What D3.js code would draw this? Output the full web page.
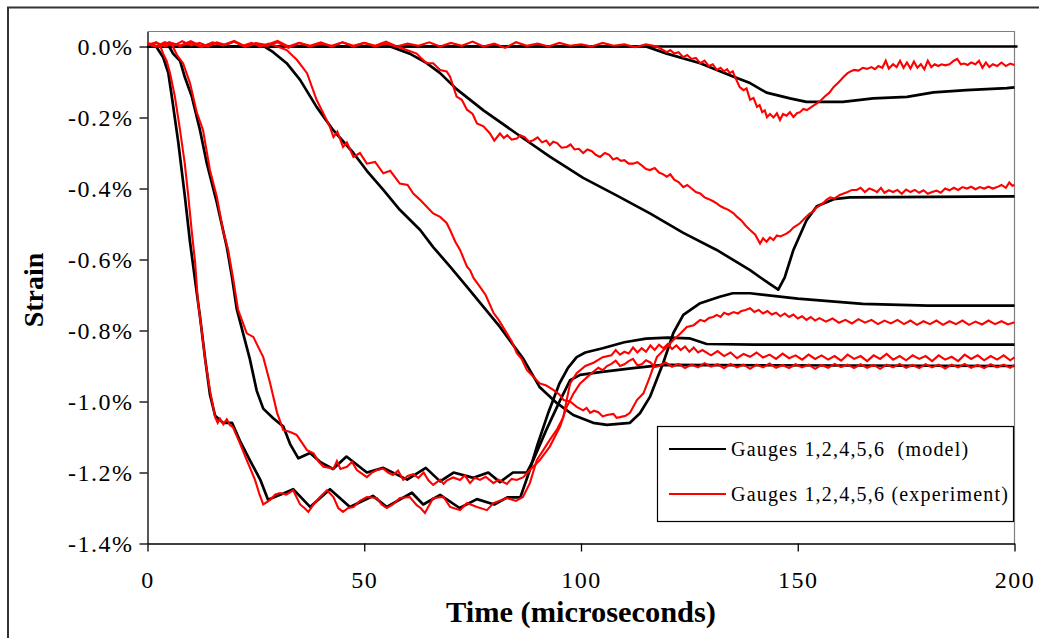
<!DOCTYPE html>
<html>
<head>
<meta charset="utf-8">
<script src="https://cdn.jsdelivr.net/npm/d3@7"></script>
<style>
  html, body { margin: 0; padding: 0; background: #fff; }
  svg { display: block; }
  .tick text { font-family: "Liberation Serif", "Times New Roman", serif; }
</style>
</head>
<body>
<svg id="chart" width="1039" height="638"></svg>
<script>
// ---- axis ticks ----
const xTicks = [0, 50, 100, 150, 200];
const xTickLabels = ["0", "50", "100", "150", "200"];
const yTicks = [0, -0.2, -0.4, -0.6, -0.8, -1.0, -1.2, -1.4];
const yTickLabels = ["0.0%", "-0.2%", "-0.4%", "-0.6%", "-0.8%", "-1.0%", "-1.2%", "-1.4%"];

// ---- series: [time (microseconds), strain (%)] ----
const model1 = [[0,0],[2,0],[3.6,-0.03],[4.8,-0.075],[5.6,-0.14],[7.1,-0.27],[8.6,-0.42],[9.8,-0.55],[11,-0.66],[12.1,-0.76],[13.3,-0.88],[14.4,-0.98],[15.6,-1.04],[17.4,-1.06],[19.5,-1.06],[21.3,-1.11],[23.6,-1.165],[26,-1.22],[27.8,-1.277],[30.6,-1.263],[33.6,-1.247],[37.5,-1.297],[42.1,-1.247],[46.7,-1.297],[52,-1.266],[55.2,-1.297],[61,-1.257],[63.6,-1.29],[67.5,-1.263],[72,-1.3],[76,-1.275],[80,-1.29],[83,-1.27],[86,-1.27],[88,-1.2],[90,-1.12],[92.5,-1.03],[95,-0.95],[97,-0.905],[99,-0.875],[101,-0.862],[105,-0.85],[110,-0.833],[115,-0.823],[120,-0.82],[125,-0.822],[129,-0.838],[140,-0.84],[200,-0.84]];
const model2 = [[0,0],[5,0],[5.9,-0.02],[7.5,-0.04],[8.6,-0.086],[10.2,-0.14],[12.1,-0.235],[13.7,-0.33],[16,-0.44],[18.3,-0.565],[19.5,-0.65],[20.6,-0.74],[22.1,-0.81],[23.6,-0.88],[25.2,-0.97],[26.7,-1.02],[29,-1.047],[31.3,-1.07],[32.9,-1.12],[34.8,-1.16],[37.5,-1.145],[39.8,-1.17],[42.8,-1.19],[45.9,-1.155],[50.6,-1.2],[54.4,-1.187],[59.9,-1.22],[64.2,-1.187],[67.5,-1.225],[70.6,-1.2],[75.2,-1.215],[78.6,-1.2],[81.3,-1.227],[84.3,-1.2],[87.5,-1.2],[89,-1.165],[92,-1.08],[95.2,-0.996],[97.5,-0.94],[99.8,-0.925],[104.4,-0.917],[112,-0.906],[119,-0.897],[200,-0.9]];
const model3 = [[0,0],[27,0],[29,-0.016],[32.1,-0.047],[35.2,-0.094],[39,-0.17],[42.8,-0.235],[47.5,-0.30],[50.6,-0.35],[54.4,-0.404],[58.2,-0.46],[62.9,-0.517],[65.9,-0.565],[69.8,-0.62],[73.7,-0.677],[81.3,-0.79],[86.7,-0.88],[90.5,-0.96],[94.4,-1.004],[98.2,-1.038],[102.8,-1.06],[106,-1.066],[111.3,-1.06],[113.6,-1.033],[115.9,-0.987],[119,-0.89],[121.3,-0.807],[123.6,-0.756],[127.5,-0.723],[132,-0.705],[135,-0.695],[139,-0.695],[150,-0.71],[165,-0.725],[180,-0.73],[200,-0.73]];
const model4 = [[0,0],[56,0],[60.5,-0.02],[64.4,-0.047],[67.5,-0.075],[71.3,-0.12],[77.5,-0.18],[85.1,-0.245],[92.8,-0.31],[100.5,-0.37],[108.3,-0.42],[115.9,-0.47],[123.6,-0.525],[131.3,-0.573],[139,-0.63],[141.3,-0.65],[145.5,-0.685],[147,-0.65],[149,-0.573],[152,-0.49],[154.4,-0.45],[158.3,-0.43],[162,-0.425],[200,-0.422]];
const model5 = [[0,0],[115,0],[119.8,-0.02],[127.5,-0.047],[135.2,-0.085],[139,-0.103],[142.8,-0.13],[148.2,-0.146],[152,-0.156],[160.4,-0.156],[167.4,-0.146],[175.2,-0.142],[181.3,-0.129],[188.9,-0.123],[198.2,-0.117],[200,-0.115]];

const exp1 = [[0,0.01],[1,0.003],[2,0.012],[3,0.0],[3.6,-0.02],[4.4,-0.04],[5.2,-0.075],[6.3,-0.14],[7.5,-0.235],[8.6,-0.33],[9.4,-0.42],[10.2,-0.52],[11,-0.61],[11.6,-0.714],[12.5,-0.80],[13.3,-0.883],[14.4,-0.968],[15.6,-1.044],[16.2,-1.06],[16.7,-1.048],[17.5,-1.064],[18.3,-1.05],[19.0,-1.066],[19.7,-1.072],[21.3,-1.117],[22.9,-1.165],[24.8,-1.221],[25.8,-1.26],[26.7,-1.29],[28.3,-1.277],[29.5,-1.262],[30.6,-1.258],[32,-1.262],[33.6,-1.25],[35.2,-1.29],[36.2,-1.30],[37.1,-1.311],[38.3,-1.29],[39.8,-1.269],[41.4,-1.25],[42.9,-1.269],[44,-1.30],[45.1,-1.311],[46.3,-1.30],[47.5,-1.297],[49,-1.28],[50.6,-1.269],[52.9,-1.272],[54,-1.29],[55.2,-1.30],[56.6,-1.29],[58.2,-1.272],[60.5,-1.269],[62.1,-1.292],[63,-1.30],[64,-1.314],[65.9,-1.272],[68.3,-1.269],[69.8,-1.297],[72.1,-1.306],[73.7,-1.286],[76,-1.297],[78.3,-1.306],[79.8,-1.286],[82.9,-1.272],[85,-1.28],[86.6,-1.269],[88.2,-1.23],[89.8,-1.165],[91.3,-1.137],[92.8,-1.108],[94.4,-1.08],[95.9,-1.044],[96.7,-0.996],[97.5,-0.949],[99,-0.92],[101,-0.90],[103,-0.89],[105,-0.875],[107,-0.87],[108,-0.855],[109,-0.868],[110,-0.86],[111,-0.865],[112,-0.848],[113,-0.862],[114,-0.85],[115,-0.86],[116,-0.842],[117,-0.855],[118,-0.84],[119,-0.85],[120,-0.838],[121,-0.852],[122,-0.842],[123,-0.855],[124,-0.845],[125,-0.86],[126,-0.848],[127,-0.862],[128,-0.855],[130,-0.87],[131.5,-0.858],[133,-0.872],[134.5,-0.862],[136,-0.878],[137.5,-0.866],[139,-0.874],[140.5,-0.862],[142,-0.876],[143.5,-0.868],[145,-0.88],[146.5,-0.865],[148,-0.878],[149.5,-0.87],[151,-0.882],[152.5,-0.868],[154,-0.88],[155.5,-0.87],[157,-0.882],[158.5,-0.872],[160,-0.885],[161.5,-0.868],[163,-0.88],[164.5,-0.872],[166,-0.886],[167.5,-0.87],[169,-0.88],[170.5,-0.866],[172,-0.882],[173.5,-0.872],[175,-0.884],[176.5,-0.87],[178,-0.88],[179.5,-0.872],[181,-0.886],[182.5,-0.87],[184,-0.882],[185.5,-0.874],[187,-0.886],[188.5,-0.868],[190,-0.88],[191.5,-0.87],[193,-0.884],[194.5,-0.872],[196,-0.882],[197.5,-0.87],[199,-0.884],[200,-0.876]];
const exp2 = [[0,0.005],[2,0.012],[4,0.0],[5.5,0.008],[6.8,-0.024],[8.2,-0.047],[9.8,-0.103],[11.4,-0.187],[12.8,-0.235],[14.4,-0.348],[16,-0.424],[17.4,-0.517],[18.6,-0.573],[19.7,-0.65],[20.9,-0.742],[22.9,-0.808],[24.4,-0.818],[26.7,-0.875],[28.3,-0.949],[29.9,-1.032],[31.3,-1.08],[32.9,-1.086],[34.4,-1.094],[36.8,-1.137],[38.3,-1.146],[39.5,-1.17],[40.6,-1.184],[42.9,-1.189],[43.7,-1.168],[44.5,-1.19],[46,-1.184],[47.2,-1.17],[48.3,-1.193],[50.6,-1.213],[51.8,-1.2],[52.9,-1.193],[54.4,-1.189],[55.5,-1.2],[56.6,-1.207],[57.8,-1.195],[59,-1.221],[60,-1.21],[61.3,-1.205],[62.5,-1.215],[63.7,-1.2],[64.8,-1.222],[65.9,-1.235],[67.5,-1.22],[68.3,-1.232],[69,-1.223],[70.5,-1.214],[72.1,-1.221],[73.2,-1.208],[74.4,-1.23],[75.5,-1.215],[76.7,-1.221],[78,-1.212],[79.8,-1.23],[81,-1.22],[82.9,-1.232],[84,-1.218],[85.2,-1.221],[86.7,-1.213],[88.2,-1.193],[90.5,-1.165],[92.8,-1.127],[95.2,-1.07],[96.7,-1.015],[98.3,-0.977],[99.8,-0.949],[102,-0.925],[104,-0.905],[105,-0.912],[106,-0.9],[107,-0.894],[108,-0.885],[109,-0.9],[110,-0.895],[111,-0.886],[112,-0.88],[113,-0.898],[114,-0.895],[115,-0.884],[116,-0.89],[117,-0.903],[118,-0.9],[119.5,-0.89],[121,-0.902],[122.5,-0.894],[124,-0.906],[125.5,-0.896],[127,-0.904],[128.5,-0.892],[130,-0.902],[131.5,-0.895],[133,-0.906],[134.5,-0.894],[136,-0.904],[137.5,-0.896],[139,-0.908],[140.5,-0.896],[142,-0.904],[143.5,-0.893],[145,-0.905],[146.5,-0.897],[148,-0.906],[149.5,-0.895],[151,-0.904],[152.5,-0.896],[154,-0.908],[155.5,-0.897],[157,-0.905],[158.5,-0.894],[160,-0.903],[161.5,-0.896],[163,-0.906],[164.5,-0.895],[166,-0.905],[167.5,-0.897],[169,-0.908],[170.5,-0.896],[172,-0.904],[173.5,-0.894],[175,-0.905],[176.5,-0.897],[178,-0.906],[179.5,-0.895],[181,-0.904],[182.5,-0.896],[184,-0.907],[185.5,-0.896],[187,-0.904],[188.5,-0.894],[190,-0.905],[191.5,-0.897],[193,-0.906],[194.5,-0.895],[196,-0.904],[197.5,-0.896],[199,-0.905],[200,-0.897]];
const exp3 = [[0,0.008],[2,0],[4,0.012],[6,0.002],[8,0.015],[10,0.003],[12,0.01],[14,0],[16,0.012],[18,0.004],[20,0.014],[22,0.002],[24,0.01],[26,0.0],[28,0.008],[30,0],[32.1,-0.01],[34.5,-0.038],[36.8,-0.075],[39,-0.15],[40.6,-0.189],[42.1,-0.227],[42.9,-0.255],[43.8,-0.24],[45.1,-0.283],[46,-0.27],[47.5,-0.311],[49,-0.3],[50.6,-0.33],[52.5,-0.325],[54.4,-0.357],[56,-0.35],[58.2,-0.386],[60,-0.39],[61.3,-0.414],[62.9,-0.432],[63.7,-0.442],[65.9,-0.47],[67.5,-0.48],[69,-0.497],[69.8,-0.517],[71,-0.55],[72.1,-0.573],[73.7,-0.62],[74.4,-0.63],[75.2,-0.652],[76.7,-0.677],[78,-0.7],[79.8,-0.75],[81,-0.77],[82.9,-0.808],[84,-0.83],[85.2,-0.864],[86.3,-0.88],[87.5,-0.911],[89,-0.93],[90.5,-0.949],[92,-0.955],[93.7,-0.968],[95,-0.98],[96,-0.996],[97.5,-1.0],[99,-1.015],[100.5,-1.025],[101.3,-1.018],[102.1,-1.032],[103,-1.026],[104,-1.03],[105,-1.042],[106,-1.038],[107.5,-1.035],[108.2,-1.046],[109,-1.044],[110.3,-1.04],[111.3,-1.032],[112.9,-0.996],[114.4,-0.977],[115.9,-0.93],[117.5,-0.875],[119.8,-0.846],[121.3,-0.827],[122.8,-0.81],[124.4,-0.79],[126,-0.785],[127.5,-0.77],[128.5,-0.774],[129.5,-0.765],[130.5,-0.762],[131.3,-0.756],[132.2,-0.762],[133,-0.75],[134,-0.755],[135.2,-0.748],[136.2,-0.752],[137,-0.745],[138,-0.742],[139,-0.737],[140,-0.748],[141,-0.742],[142,-0.752],[143,-0.745],[144,-0.755],[145,-0.75],[146,-0.76],[147,-0.752],[148,-0.762],[149,-0.755],[150,-0.766],[151,-0.76],[152,-0.77],[153,-0.762],[154,-0.772],[155,-0.765],[156.5,-0.775],[158,-0.766],[159.5,-0.778],[161,-0.77],[162.5,-0.78],[164,-0.768],[165.5,-0.778],[167,-0.77],[168.5,-0.782],[170,-0.772],[171.5,-0.78],[173,-0.77],[174.5,-0.782],[176,-0.772],[177.5,-0.784],[179,-0.774],[180.5,-0.782],[182,-0.772],[183.5,-0.784],[185,-0.774],[186.5,-0.782],[188,-0.772],[189.5,-0.784],[191,-0.775],[192.5,-0.783],[194,-0.772],[195.5,-0.782],[197,-0.774],[198.5,-0.783],[200,-0.777]];
const exp4 = [[0,0.01],[2.5,0],[5,0.012],[7.5,0.002],[10,0.015],[12.5,0],[15,0.01],[17.5,0.003],[20,0.014],[22.5,0.0],[25,0.01],[27.5,0.004],[30,0.016],[32.5,0.0],[35,0.01],[37.5,0.002],[40,0.012],[42.5,0.0],[45,0.012],[47.5,0.002],[50,0.01],[52.5,0.0],[55,0.008],[57.5,0.0],[59.8,-0.01],[62.1,-0.02],[62.9,-0.03],[64.4,-0.047],[65.9,-0.047],[67.5,-0.066],[69,-0.07],[69.8,-0.085],[71.3,-0.141],[72.5,-0.15],[73.7,-0.178],[75,-0.19],[76,-0.217],[77.5,-0.225],[79,-0.245],[80,-0.265],[81.3,-0.245],[82.2,-0.258],[83,-0.25],[84,-0.262],[85.2,-0.259],[86,-0.25],[87,-0.255],[88,-0.268],[89,-0.264],[90,-0.256],[91,-0.27],[92,-0.265],[92.8,-0.278],[93.6,-0.268],[94.5,-0.272],[95.5,-0.285],[96.7,-0.283],[97.6,-0.276],[98.5,-0.29],[99.5,-0.288],[100.5,-0.3],[101.5,-0.29],[102.5,-0.295],[103.4,-0.305],[104.4,-0.311],[105.5,-0.3],[106.5,-0.305],[107.4,-0.318],[108.3,-0.314],[109.2,-0.322],[110,-0.32],[111,-0.33],[112,-0.33],[113,-0.326],[114,-0.335],[115,-0.345],[115.9,-0.348],[117,-0.342],[118,-0.355],[119,-0.36],[119.8,-0.367],[120.6,-0.36],[121.5,-0.375],[122.5,-0.382],[123.6,-0.396],[124.5,-0.39],[125.5,-0.4],[126.5,-0.41],[127.5,-0.414],[128.5,-0.425],[129.5,-0.43],[130.5,-0.436],[131.3,-0.442],[132.2,-0.45],[133,-0.455],[134,-0.46],[135.2,-0.47],[136,-0.48],[137,-0.49],[138,-0.505],[139,-0.517],[140.2,-0.53],[141.3,-0.555],[142,-0.54],[142.8,-0.55],[143.6,-0.538],[144.4,-0.545],[145.2,-0.532],[146,-0.535],[147.4,-0.527],[148.2,-0.52],[149,-0.51],[150.5,-0.498],[151.5,-0.485],[152.8,-0.47],[153.5,-0.466],[154.2,-0.455],[155,-0.448],[155.8,-0.442],[156.6,-0.432],[157.5,-0.425],[158.5,-0.428],[159.7,-0.418],[160.6,-0.414],[161.5,-0.41],[162.5,-0.404],[163.6,-0.404],[164.5,-0.398],[165.5,-0.41],[166.5,-0.4],[167.4,-0.404],[168.3,-0.41],[169.2,-0.398],[170,-0.412],[171,-0.405],[172,-0.41],[173,-0.404],[174,-0.415],[175,-0.403],[176,-0.41],[177,-0.404],[178,-0.412],[179,-0.405],[180,-0.415],[181,-0.41],[182,-0.406],[183,-0.412],[184,-0.4],[185,-0.405],[186,-0.398],[187,-0.404],[188,-0.396],[189,-0.4],[190,-0.395],[191,-0.402],[192,-0.396],[193,-0.4],[194,-0.395],[195,-0.4],[196,-0.396],[197,-0.39],[198,-0.398],[198.8,-0.383],[199.5,-0.392],[200,-0.39]];
const exp5 = [[0,0.006],[2.5,0.0],[5,0.012],[7.5,0.002],[10,0.01],[12.5,-0.002],[15,0.012],[17.5,0.004],[20,0.016],[22.5,0.0],[25,0.008],[27.5,0.002],[30,0.012],[32.5,-0.004],[35,0.01],[37.5,0.0],[40,0.008],[42.5,0.002],[45,0.012],[47.5,0.0],[50,0.01],[52.5,0.002],[55,0.014],[57.5,0.0],[60,0.008],[62.5,0.002],[65,0.012],[67.5,0.0],[70,0.01],[72.5,0.002],[75,0.014],[77.5,0.0],[80,0.008],[82.5,-0.004],[85,0.012],[87.5,0.002],[90,0.008],[92.5,0.0],[95,0.01],[97.5,0.002],[100,0.006],[102.5,0.0],[105,0.01],[107.5,0.002],[110,0.006],[112.5,-0.002],[115,0.006],[117.5,0.0],[119.8,-0.016],[120.6,-0.01],[121.5,-0.02],[122.5,-0.016],[123.6,-0.03],[124.5,-0.024],[125.5,-0.035],[126.5,-0.032],[127.5,-0.047],[128.5,-0.04],[129.5,-0.055],[130.4,-0.05],[131.3,-0.066],[132.2,-0.06],[133,-0.07],[133.7,-0.064],[134.3,-0.075],[135,-0.07],[135.5,-0.085],[136.6,-0.114],[137.5,-0.123],[138.2,-0.118],[139,-0.15],[139.8,-0.145],[140.6,-0.17],[141.2,-0.165],[141.8,-0.185],[142.4,-0.18],[142.9,-0.199],[143.6,-0.19],[144.4,-0.2],[145.2,-0.188],[145.9,-0.207],[146.6,-0.19],[147.4,-0.195],[148.2,-0.185],[149,-0.199],[149.8,-0.188],[150.5,-0.185],[151.3,-0.176],[152.1,-0.179],[153.2,-0.17],[154.4,-0.16],[155.3,-0.152],[156.3,-0.14],[157.3,-0.13],[158.3,-0.114],[159.5,-0.1],[160.6,-0.085],[161.5,-0.075],[162.2,-0.07],[163,-0.066],[164,-0.068],[165,-0.06],[166,-0.063],[167,-0.058],[167.8,-0.064],[168.6,-0.055],[169.5,-0.06],[170.3,-0.04],[171,-0.062],[172,-0.05],[172.8,-0.058],[173.6,-0.04],[174.4,-0.06],[175.2,-0.045],[176,-0.062],[176.8,-0.042],[177.6,-0.06],[178.4,-0.05],[179.2,-0.064],[180,-0.04],[180.8,-0.058],[181.6,-0.05],[182.4,-0.055],[183.2,-0.05],[184,-0.053],[185,-0.05],[186,-0.04],[186.8,-0.035],[187.6,-0.05],[188.4,-0.048],[189.2,-0.052],[190,-0.045],[191,-0.05],[191.8,-0.04],[192.6,-0.06],[193.4,-0.045],[194.2,-0.058],[195,-0.05],[196,-0.055],[197,-0.045],[198,-0.055],[199,-0.048],[200,-0.052]];

const zeroLine = [[0,0],[200.7,0]];

const legendLabels = ["Gauges 1,2,4,5,6\u00a0\u00a0(model)", "Gauges 1,2,4,5,6 (experiment)"];
const modelColor = "#000000";
const expColor = "#ff0000";

// ---- layout ----
const svg = d3.select("#chart");
const plot = { left: 147.5, right: 1014.5, top: 31.5, bottom: 543.5 };
const yMax = 0.0423;

const x = d3.scaleLinear().domain([0, 200]).range([plot.left, plot.right]);
const y = d3.scaleLinear().domain([-1.4, yMax]).range([plot.bottom, plot.top]);

// outer chart frame (partly cut by the page edge)
svg.append("path")
  .attr("d", "M8,638 L8,7.5 L1039,7.5")
  .attr("fill", "none").attr("stroke", "#333").attr("stroke-width", 2);

// plot area border (top / right)
svg.append("path")
  .attr("d", `M${plot.left},${plot.top} L${plot.right},${plot.top} L${plot.right},${plot.bottom}`)
  .attr("fill", "none").attr("stroke", "#7f7f7f").attr("stroke-width", 1.2);

// axes
const xAxis = d3.axisBottom(x).tickValues(xTicks).tickSize(8).tickSizeOuter(0)
  .tickFormat((d, i) => xTickLabels[i]);
const yAxis = d3.axisLeft(y).tickValues(yTicks).tickSize(8).tickSizeOuter(0)
  .tickFormat((d, i) => yTickLabels[i]);

const gx = svg.append("g").attr("transform", `translate(0,${plot.bottom})`).call(xAxis);
const gy = svg.append("g").attr("transform", `translate(${plot.left},0)`).call(yAxis);

[gx, gy].forEach(g => {
  g.select(".domain").attr("stroke", "#000").attr("stroke-width", 1.3);
  g.selectAll(".tick line").attr("stroke", "#000").attr("stroke-width", 1.3);
  g.selectAll(".tick text")
    .attr("fill", "#000")
    .style("font-size", "24px")
    .style("letter-spacing", "1.5px");
});
gx.selectAll(".tick text").attr("dy", null).attr("y", 44);
gy.selectAll(".tick text").attr("x", -14).attr("dy", "0.33em");

// axis titles
svg.append("text")
  .attr("x", 581).attr("y", 622)
  .attr("text-anchor", "middle")
  .attr("textLength", 270).attr("lengthAdjust", "spacingAndGlyphs")
  .style("font-family", "'Liberation Serif', 'Times New Roman', serif")
  .style("font-weight", "bold")
  .style("font-size", "29px")
  .text("Time (microseconds)");

svg.append("text")
  .attr("transform", "translate(43,290) rotate(-90)")
  .attr("text-anchor", "middle")
  .style("font-family", "'Liberation Serif', 'Times New Roman', serif")
  .style("font-weight", "bold")
  .style("font-size", "28px")
  .text("Strain");

// series
const line = d3.line().x(d => x(d[0])).y(d => y(d[1]));
const gLines = svg.append("g");

gLines.append("path").datum(zeroLine)
  .attr("d", line).attr("fill", "none").attr("stroke", modelColor).attr("stroke-width", 2.4);

const expSeries = [exp5, exp4, exp3, exp2, exp1];
const modelSeries = [model5, model4, model3, model2, model1];

modelSeries.forEach(s => {
  gLines.append("path").datum(s)
    .attr("d", line).attr("fill", "none")
    .attr("stroke", modelColor).attr("stroke-width", 2.7)
    .attr("stroke-linejoin", "round");
});
expSeries.forEach(s => {
  gLines.append("path").datum(s)
    .attr("d", line).attr("fill", "none")
    .attr("stroke", expColor).attr("stroke-width", 2.1)
    .attr("stroke-linejoin", "miter");
});

// legend
const lg = svg.append("g");
lg.append("rect")
  .attr("x", 657.5).attr("y", 426.5).attr("width", 356).attr("height", 95)
  .attr("fill", "#fff").attr("stroke", "#000").attr("stroke-width", 1.2);

[modelColor, expColor].forEach((c, i) => {
  const ly = 449 + i * 45;
  lg.append("line")
    .attr("x1", 669).attr("x2", 726).attr("y1", ly).attr("y2", ly)
    .attr("stroke", c).attr("stroke-width", 2);
  lg.append("text")
    .attr("x", 731).attr("y", ly + 7)
    .style("font-family", "'Liberation Serif', 'Times New Roman', serif")
    .style("font-size", "20px")
    .style("letter-spacing", "1.2px")
    .attr("fill", "#000")
    .text(legendLabels[i]);
});
</script>
</body>
</html>
